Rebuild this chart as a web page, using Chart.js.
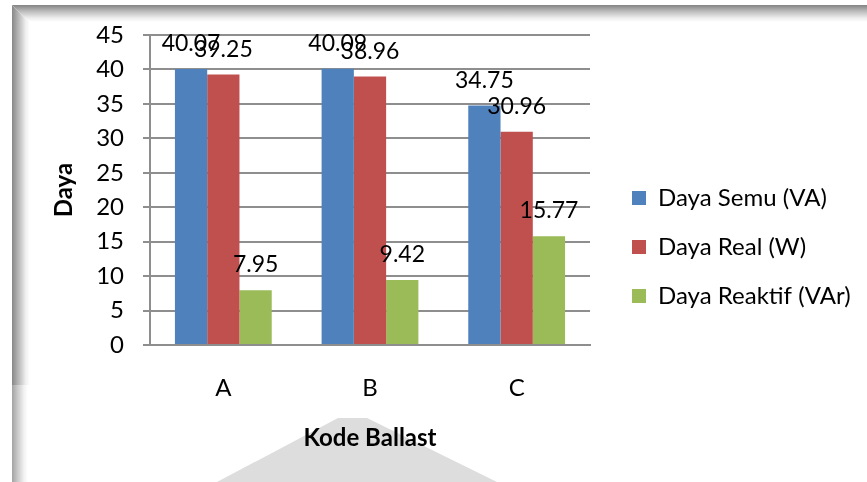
<!DOCTYPE html>
<html>
<head>
<meta charset="utf-8">
<title>Daya per Kode Ballast</title>
<script src="https://cdn.jsdelivr.net/npm/chart.js@4.4.0/dist/chart.umd.min.js"></script>
<style>
  html, body { margin: 0; padding: 0; background: #fff; }
  #wrap { position: relative; width: 867px; height: 482px; overflow: hidden; background: #fff; }
  .edge-top {
    position: absolute; left: 12px; top: 5px; width: 855px; height: 17px;
    background: linear-gradient(to bottom, #838383, #b9b9b9 35%, #ececec 75%, #fff);
    clip-path: polygon(0 0, 100% 0, 100% 100%, 17px 100%);
  }
  .edge-left {
    position: absolute; left: 12px; top: 5px; width: 18px; height: 380px;
    background: linear-gradient(to right, #878787, #b5b5b5 35%, #eeeeee 75%, #fff);
    clip-path: polygon(0 0, 100% 18px, 100% 100%, 0 100%);
  }
  .edge-left-low {
    position: absolute; left: 12px; top: 385px; width: 16px; height: 97px;
    background: linear-gradient(to right, #a3a3a3, #c9c9c9 35%, #f2f2f2 75%, #fff);
  }
  .mark {
    position: absolute; left: 0; top: 0; width: 867px; height: 482px;
    background: #dddddd;
    clip-path: polygon(338px 418px, 367px 418px, 497px 482px, 217px 482px);
  }
  canvas { position: absolute; left: 0; top: 0; }
</style>
</head>
<body>
<div id="wrap">
  <div class="mark"></div>
  <div class="edge-top"></div>
  <div class="edge-left"></div>
  <div class="edge-left-low"></div>
  <canvas id="chart" width="867" height="482"></canvas>
</div>
<script>
const categories = ['A', 'B', 'C'];
const seriesNames = ['Daya Semu (VA)', 'Daya Real (W)', 'Daya Reaktif (VAr)'];
const dayaSemu = [40.07, 40.09, 34.75];
const dayaReal = [39.25, 38.96, 30.96];
const dayaReaktif = [7.95, 9.42, 15.77];
const seriesColors = ['#4f81bd', '#c0504d', '#9bbb59'];
const yMin = 0;
const yMax = 45;
const yStep = 5;

const FONT = 'Lato';
const gridColor = '#8e8e8e';

// numbers printed above every bar
const valueLabels = {
    id: 'valueLabels',
    afterDatasetsDraw(chart) {
        const ctx = chart.ctx;
        ctx.save();
        ctx.font = '23px ' + FONT;
        ctx.fillStyle = '#000';
        ctx.textAlign = 'center';
        ctx.textBaseline = 'alphabetic';
        chart.data.datasets.forEach((ds, i) => {
            chart.getDatasetMeta(i).data.forEach((bar, j) => {
                ctx.fillText(ds.data[j].toFixed(2), bar.x, bar.y - 18);
            });
        });
        ctx.restore();
    }
};

// legend sits a little apart from the plot, like the spreadsheet layout
const legendPlace = {
    id: 'legendPlace',
    afterInit(chart) {
        const fit = chart.legend.fit;
        chart.legend.fit = function () {
            fit.call(this);
            this.width = 277;
        };
    },
    afterLayout(chart) {
        const lg = chart.legend;
        lg.left += 17; lg.right += 17;
        lg.top -= 3; lg.bottom -= 3;
    }
};

function buildChart() {
    const ctx = document.getElementById('chart').getContext('2d');
    const values = [dayaSemu, dayaReal, dayaReaktif];

    new Chart(ctx, {
        type: 'bar',
        data: {
            labels: categories,
            datasets: seriesNames.map((name, i) => ({
                label: name,
                data: values[i],
                backgroundColor: seriesColors[i],
                borderWidth: 0,
                categoryPercentage: 0.66,
                barPercentage: 1.0
            }))
        },
        options: {
            responsive: false,
            animation: false,
            events: [],
            layout: { padding: { left: 30, top: 35, right: 0, bottom: 17 } },
            plugins: {
                tooltip: { enabled: false },
                legend: {
                    position: 'right',
                    align: 'center',
                    labels: {
                        boxWidth: 14,
                        boxHeight: 14,
                        padding: 25,
                        color: '#000',
                        font: { family: FONT, size: 24 }
                    }
                }
            },
            scales: {
                x: {
                    grid: { display: false, drawTicks: false },
                    border: { display: true, color: gridColor, width: 2 },
                    ticks: { color: '#000', padding: 29, font: { family: FONT, size: 24 } },
                    title: {
                        display: true,
                        text: 'Kode Ballast',
                        color: '#000',
                        font: { family: FONT, size: 24, weight: 'bold' },
                        padding: { top: 0, bottom: 12 }
                    },
                    afterFit(scale) { scale.height = 120; }
                },
                y: {
                    min: yMin,
                    max: yMax,
                    ticks: {
                        stepSize: yStep,
                        color: '#000',
                        padding: 19,
                        font: { family: FONT, size: 24 }
                    },
                    grid: { color: gridColor, lineWidth: 2, tickLength: 7 },
                    border: { display: true, color: gridColor, width: 2 },
                    title: {
                        display: true,
                        text: 'Daya',
                        color: '#000',
                        font: { family: FONT, size: 24, weight: 'bold' },
                        padding: { top: 20, bottom: 0 }
                    },
                    afterFit(scale) { scale.width = 120; }
                }
            }
        },
        plugins: [valueLabels, legendPlace]
    });
}

Promise.all([
    document.fonts.load('24px ' + FONT),
    document.fonts.load('bold 24px ' + FONT)
]).then(buildChart, buildChart);
</script>
</body>
</html>
